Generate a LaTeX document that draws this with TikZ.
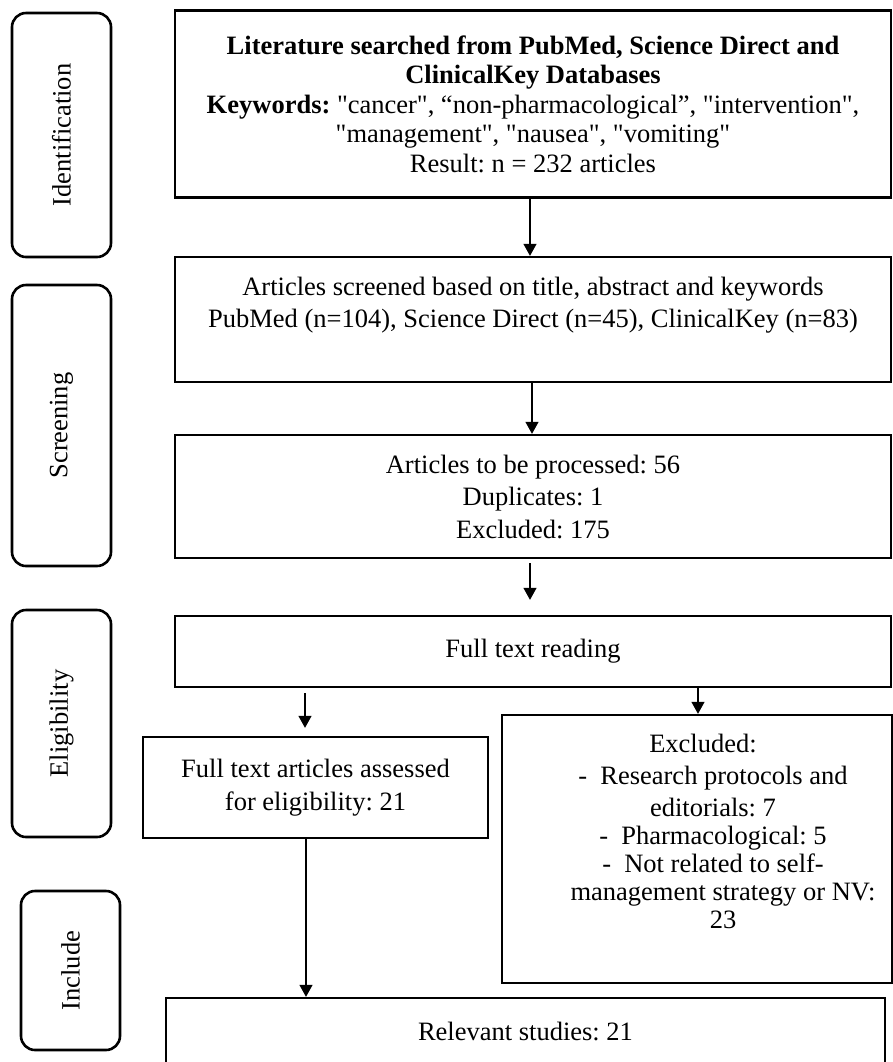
\documentclass[tikz,border=0pt]{standalone}
\usepackage{fontspec}
\newfontfamily\mainf{Liberation Serif}
\usetikzlibrary{arrows.meta}
\begin{document}
\mainf\fontsize{13.25}{16.25}\selectfont\frenchspacing
\begin{tikzpicture}[x=0.5pt,y=-0.5pt,
  box/.style={draw, line width=1.15pt, inner sep=0pt, align=center},
  side/.style={draw, line width=1.3pt, rounded corners=7pt, inner sep=0pt},
  txt/.style={inner sep=0pt, align=center},
  arr/.style={line width=0.55pt, -{Triangle[width=6.5pt,length=6pt]}}]
\useasboundingbox (0,0) rectangle (893,1062);
% side labels
\node[side, minimum width=49.5pt, minimum height=122pt] (s1) at (61.5,135) {\rotatebox{90}{Identification}};
\node[side, minimum width=49.5pt, minimum height=140.5pt] (s2) at (61.5,425.5) {\rotatebox{90}{Screening}};
\node[side, minimum width=49.5pt, minimum height=113.5pt] (s3) at (61.5,723.5) {\rotatebox{90}{Eligibility}};
\node[side, minimum width=49.5pt, minimum height=79.5pt] (s4) at (70.5,970.5) {\rotatebox{90}{Include}};
% main boxes
\node[box, minimum width=358pt, minimum height=93.5pt] (b1) at (533,104)
 {\textbf{Literature searched from PubMed, Science Direct and}\\[-1.5pt]
  \textbf{ClinicalKey Databases}\\[-1.5pt]
  \textbf{Keywords:} "cancer", “non-pharmacological”, "intervention",\\[-1.5pt]
  "management", "nausea", "vomiting"\\[-1.5pt]
  Result: n = 232 articles};
\node[box, minimum width=358pt, minimum height=62.5pt] (b2) at (533,319.5) {};
\node[txt] (t2) at (533,305)
 {Articles screened based on title, abstract and keywords\\
  PubMed (n=104), Science Direct (n=45), ClinicalKey (n=83)};
\node[box, minimum width=358pt, minimum height=61.5pt] (b3) at (533,496.5)
 {Articles to be processed: 56\\ Duplicates: 1\\ Excluded: 175};
\node[box, minimum width=358pt, minimum height=35.5pt] (b4) at (533,651.5) {Full text reading};
\node[box, minimum width=172.5pt, minimum height=50.5pt] (b5) at (315.5,787.5)
 {Full text articles assessed\\ for eligibility: 21};
\node[box, minimum width=195pt, minimum height=134pt] (b6) at (697,849) {};
\node[txt] (t6) at (713,831)
 {Excluded:\hspace*{10pt}\\[-0.25pt]
  -\enspace Research protocols and\\[-0.25pt]
  editorials: 7\\[-2.25pt]
  -\enspace Pharmacological: 5\\[-2.25pt]
  -\enspace Not related to self-\\[-2.25pt]
  \hspace*{10pt}management strategy or NV:\\[-2.25pt]
  \hspace*{10pt}23};
\node[box, minimum width=359.5pt, minimum height=33pt] (b7) at (525.5,1031) {Relevant studies: 21};
% arrow columns
\coordinate (c530) at (530,0);
\coordinate (c532) at (532,0);
\coordinate (c305) at (305,0);
\coordinate (c306) at (306,0);
\coordinate (c698) at (698,0);
\draw[arr] (b1.south -| c530) -- (b2.north -| c530);
\draw[arr] (b2.south -| c532) -- (b3.north -| c532);
\draw[arr, shorten <=2pt, shorten >=7.5pt] (b3.south -| c530) -- (b4.north -| c530);
\draw[arr, shorten <=2.5pt, shorten >=4pt] (b4.south -| c305) -- (b5.north -| c305);
\draw[arr] (b4.south -| c698) -- (b6.north -| c698);
\draw[arr] (b5.south -| c306) -- (b7.north -| c306);
\end{tikzpicture}
\end{document}
